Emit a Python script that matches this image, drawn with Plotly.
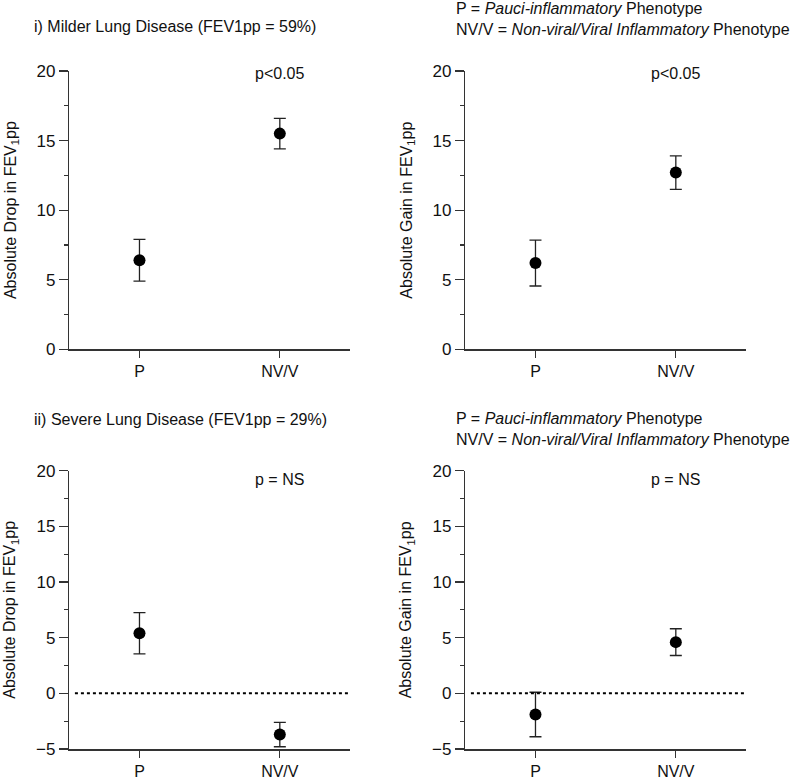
import plotly.graph_objects as go

categories = ["P", "NV/V"]
cat_pos = [0, 1]

mild_drop = [6.4, 15.5]
mild_drop_err = [1.5, 1.1]
mild_gain = [6.2, 12.7]
mild_gain_err = [1.65, 1.2]
severe_drop = [5.4, -3.7]
severe_drop_err = [1.85, 1.1]
severe_gain = [-1.9, 4.6]
severe_gain_err = [2.0, 1.2]

FONT = "Liberation Sans, Arial, Helvetica, sans-serif"
AX = "#333333"

fig = go.Figure()

panels = [
    ("x", "y", mild_drop, mild_drop_err),
    ("x2", "y2", mild_gain, mild_gain_err),
    ("x3", "y3", severe_drop, severe_drop_err),
    ("x4", "y4", severe_gain, severe_gain_err),
]
for xa, ya, vals, errs in panels:
    fig.add_trace(go.Scatter(
        x=cat_pos, y=vals, mode="markers", xaxis=xa, yaxis=ya,
        marker=dict(size=12, color="black"),
        error_y=dict(type="data", array=errs, visible=True, color="#222222",
                     thickness=1.3, width=6),
        showlegend=False, cliponaxis=False, hoverinfo="skip",
    ))

W, H = 792, 780

def xd(a, b):
    return [a / W, b / W]
def yd(top, bot):
    return [(H - bot) / H, (H - top) / H]
def px(x):
    return x / W
def py(y):
    return 1 - y / H

x_left = xd(69.3, 350)
x_right = xd(465.3, 746)
y_top = yd(71, 349.3)
y_bot = yd(470.7, 749)

common_x = dict(range=[-0.5, 1.5], tickvals=cat_pos, ticktext=categories,
                showline=True, linecolor=AX, linewidth=1.5, ticks="outside",
                ticklen=7, tickcolor=AX, tickwidth=1.3, showgrid=False,
                zeroline=False, fixedrange=True, automargin=False,
                tickfont=dict(size=16, color="#111", family=FONT))
common_y = dict(showline=True, linecolor=AX, linewidth=1.5, ticks="outside",
                ticklen=9, tickcolor=AX, tickwidth=1.3, showgrid=False,
                zeroline=False, dtick=5, automargin=False, fixedrange=True,
                minor=dict(dtick=2.5, ticks="outside", ticklen=4, tickcolor=AX, tickwidth=1.3),
                tickfont=dict(size=17, color="#111", family=FONT),
                title_font=dict(size=16, color="#111", family=FONT),
                title_standoff=16)

drop_title = "Absolute Drop in FEV<sub>1</sub>pp"
gain_title = "Absolute Gain in FEV<sub>1</sub>pp"

fig.update_layout(
    width=W, height=H,
    margin=dict(l=0, r=0, t=0, b=0, autoexpand=False),
    paper_bgcolor="white", plot_bgcolor="white",
    font=dict(family=FONT, color="#111"),
    hovermode=False,
    xaxis=dict(domain=x_left, anchor="y", **common_x),
    yaxis=dict(domain=y_top, anchor="x", range=[0, 20], title_text=drop_title, **common_y),
    xaxis2=dict(domain=x_right, anchor="y2", **common_x),
    yaxis2=dict(domain=y_top, anchor="x2", range=[0, 20], title_text=gain_title, **common_y),
    xaxis3=dict(domain=x_left, anchor="y3", **common_x),
    yaxis3=dict(domain=y_bot, anchor="x3", range=[-5, 20], title_text=drop_title, **common_y),
    xaxis4=dict(domain=x_right, anchor="y4", **common_x),
    yaxis4=dict(domain=y_bot, anchor="x4", range=[-5, 20], title_text=gain_title, **common_y),
)

# dotted zero lines in the bottom panels
for xr, yr in [("x3", "y3"), ("x4", "y4")]:
    fig.add_shape(type="line", xref=xr + " domain", yref=yr, x0=0.02, x1=1, y0=0, y1=0,
                  line=dict(color="black", width=2, dash="dot"))

ann_font = dict(size=16, color="#111", family=FONT)
legend_text = ("P = <i>Pauci-inflammatory</i> Phenotype<br>"
               "NV/V = <i>Non-viral/Viral Inflammatory</i> Phenotype")

fig.add_annotation(text="i) Milder Lung Disease (FEV1pp = 59%)", xref="paper", yref="paper",
                   x=px(32), y=py(27), xanchor="left", yanchor="middle",
                   showarrow=False, font=ann_font)
fig.add_annotation(text="ii) Severe Lung Disease (FEV1pp = 29%)", xref="paper", yref="paper",
                   x=px(32), y=py(419), xanchor="left", yanchor="middle",
                   showarrow=False, font=ann_font)
fig.add_annotation(text=legend_text, xref="paper", yref="paper",
                   x=px(454), y=py(18.5), xanchor="left", yanchor="middle", align="left",
                   showarrow=False, font=ann_font)
fig.add_annotation(text=legend_text, xref="paper", yref="paper",
                   x=px(454), y=py(428.5), xanchor="left", yanchor="middle", align="left",
                   showarrow=False, font=ann_font)

for xr, yr in [("x", "y"), ("x2", "y2")]:
    fig.add_annotation(text="p<0.05", xref=xr, yref=yr + " domain", x=1, y=1 - 2 / 278,
                       xanchor="center", yanchor="middle", showarrow=False, font=ann_font)
for xr, yr in [("x3", "y3"), ("x4", "y4")]:
    fig.add_annotation(text="p = NS", xref=xr, yref=yr + " domain", x=1, y=1 - 9 / 278,
                       xanchor="center", yanchor="middle", showarrow=False, font=ann_font)

fig.write_html("out.html",
               config={"displayModeBar": False, "staticPlot": True},
               post_script="document.body.style.margin='0';document.body.style.overflow='hidden';")
